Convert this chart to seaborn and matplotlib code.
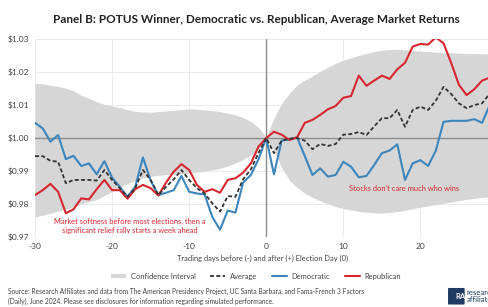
import numpy as np
import pandas as pd
import matplotlib
matplotlib.use("Agg")
import matplotlib.pyplot as plt
from matplotlib.lines import Line2D
from matplotlib.patches import Patch, FancyBboxPatch
import seaborn as sns

# trading days around election day
days = list(range(-30, 30))

democratic = [1.0046, 1.0029, 0.9989, 1.0009, 0.9936, 0.9946, 0.9915, 0.9923, 0.9890, 0.9930,
              0.9880, 0.9852, 0.9822, 0.9852, 0.9941, 0.9871, 0.9827, 0.9834, 0.9842, 0.9885,
              0.9837, 0.9832, 0.9829, 0.9761, 0.9722, 0.9780, 0.9774, 0.9865, 0.9888, 0.9936,
              1.0000, 0.9890, 0.9992, 0.9996, 1.0002, 0.9945, 0.9888, 0.9908, 0.9883, 0.9888,
              0.9928, 0.9913, 0.9881, 0.9885, 0.9918, 0.9954, 0.9962, 0.9981, 0.9873, 0.9923,
              0.9933, 0.9915, 0.9962, 1.0049, 1.0052, 1.0052, 1.0052, 1.0057, 1.0046, 1.0100]

republican = [0.9827, 0.9842, 0.9861, 0.9837, 0.9772, 0.9784, 0.9817, 0.9814, 0.9845, 0.9873,
              0.9842, 0.9842, 0.9816, 0.9845, 0.9858, 0.9848, 0.9826, 0.9865, 0.9898, 0.9921,
              0.9903, 0.9858, 0.9837, 0.9845, 0.9834, 0.9873, 0.9878, 0.9895, 0.9923, 0.9974,
              1.0000, 1.0019, 1.0010, 0.9994, 1.0002, 1.0046, 1.0055, 1.0070, 1.0087, 1.0097,
              1.0122, 1.0127, 1.0189, 1.0158, 1.0174, 1.0189, 1.0179, 1.0208, 1.0228, 1.0277,
              1.0285, 1.0283, 1.0305, 1.0287, 1.0227, 1.0161, 1.0130, 1.0148, 1.0174, 1.0183]

average = [0.9945, 0.9945, 0.9931, 0.9928, 0.9863, 0.9873, 0.9873, 0.9873, 0.9871, 0.9903,
           0.9873, 0.9848, 0.9822, 0.9848, 0.9903, 0.9873, 0.9827, 0.9852, 0.9875, 0.9903,
           0.9873, 0.9848, 0.9832, 0.9802, 0.9777, 0.9824, 0.9822, 0.9875, 0.9905, 0.9955,
           1.0000, 0.9954, 0.9992, 0.9998, 1.0000, 0.9992, 0.9966, 0.9982, 0.9976, 0.9982,
           1.0010, 1.0012, 1.0018, 1.0009, 1.0035, 1.0060, 1.0060, 1.0085, 1.0034, 1.0085,
           1.0095, 1.0085, 1.0113, 1.0155, 1.0133, 1.0105, 1.0090, 1.0100, 1.0105, 1.0135]

ci_upper = [1.0166, 1.0164, 1.0160, 1.0156, 1.0151, 1.0143, 1.0130, 1.0120, 1.0110, 1.0102,
            1.0097, 1.0092, 1.0086, 1.0081, 1.0079, 1.0078, 1.0080, 1.0082, 1.0084, 1.0086,
            1.0088, 1.0087, 1.0085, 1.0083, 1.0080, 1.0075, 1.0070, 1.0062, 1.0050, 1.0032,
            1.0002, 1.0060, 1.0105, 1.0135, 1.0160, 1.0175, 1.0188, 1.0202, 1.0215, 1.0226,
            1.0236, 1.0243, 1.0250, 1.0256, 1.0262, 1.0266, 1.0268, 1.0269, 1.0267, 1.0265,
            1.0263, 1.0262, 1.0260, 1.0259, 1.0258, 1.0257, 1.0256, 1.0256, 1.0255, 1.0255]

ci_lower = [0.9761, 0.9766, 0.9772, 0.9778, 0.9784, 0.9792, 0.9800, 0.9807, 0.9813, 0.9826,
            0.9838, 0.9850, 0.9862, 0.9871, 0.9879, 0.9884, 0.9887, 0.9889, 0.9890, 0.9891,
            0.9893, 0.9896, 0.9900, 0.9903, 0.9908, 0.9915, 0.9924, 0.9935, 0.9948, 0.9967,
            0.9998, 0.9962, 0.9910, 0.9872, 0.9850, 0.9832, 0.9820, 0.9810, 0.9800, 0.9792,
            0.9786, 0.9782, 0.9778, 0.9775, 0.9773, 0.9772, 0.9774, 0.9777, 0.9781, 0.9786,
            0.9790, 0.9794, 0.9798, 0.9802, 0.9806, 0.9810, 0.9814, 0.9817, 0.9820, 0.9822]

y_ticks = [0.97, 0.98, 0.99, 1.00, 1.01, 1.02, 1.03]
x_ticks = [-30, -20, -10, 0, 10, 20]

blue = "#3d85bd"
red = "#d7262f"
band = "#d6d6d6"
txt = "#444444"

sns.set_theme(style="white")
plt.rcParams["font.family"] = ["Lato", "DejaVu Sans"]

df = pd.DataFrame({"day": days, "Democratic": democratic,
                   "Republican": republican, "Average": average})

fig = plt.figure(figsize=(4.89, 3.07), dpi=100)
ax = fig.add_axes([0.0716, 0.228, 0.93, 0.645])

# grid
for t in y_ticks:
    ax.axhline(t, color="#ebebeb", lw=0.7, zorder=0)
for t in x_ticks:
    if t != 0:
        ax.axvline(t, color="#ebebeb", lw=0.7, zorder=0)

ax.fill_between(days, ci_lower, ci_upper, color=band, lw=0, zorder=1)
ax.axhline(1.0, color="#8c8c8c", lw=1.0, zorder=2)
ax.axvline(0, color="#8c8c8c", lw=1.0, zorder=2)

sns.lineplot(data=df, x="day", y="Democratic", color=blue, lw=1.5, ax=ax, zorder=3)
sns.lineplot(data=df, x="day", y="Republican", color=red, lw=1.5, ax=ax, zorder=4)
sns.lineplot(data=df, x="day", y="Average", color="#333333", lw=1.3, ax=ax, zorder=5,
             linestyle=(0, (2.2, 1.3)))

ax.set_xlim(-30, 29)
ax.set_ylim(0.97, 1.03)
ax.set_xticks(x_ticks)
ax.set_xticklabels([str(t) for t in x_ticks])
ax.set_yticks(y_ticks)
ax.set_yticklabels([f"${t:.2f}" for t in y_ticks])
ax.tick_params(axis="both", labelsize=6.0, colors=txt, length=0, pad=4)
for s in ax.spines.values():
    s.set_visible(False)
ax.set_xlabel("Trading days before (-) and after (+) Election Day (0)", fontsize=5.4,
              color=txt, labelpad=4)
ax.set_ylabel("")

ax.text(-17.7, 0.9733, "Market softness before most elections, then a\nsignificant relief rally starts a week ahead",
        color=red, fontsize=5.4, ha="center", va="center", linespacing=1.3)
ax.text(17.9, 0.9848, "Stocks don't care much who wins", color=red, fontsize=5.4,
        ha="center", va="center")

fig.text(0.524, 0.935, "Panel B: POTUS Winner, Democratic vs. Republican, Average Market Returns",
         ha="center", va="center", fontsize=8.5, fontweight="bold", color="#222222")

handles = [Patch(facecolor=band, edgecolor="none"),
           Line2D([], [], color="#333333", lw=1.3, linestyle=(0, (2.2, 1.3))),
           Line2D([], [], color=blue, lw=1.5),
           Line2D([], [], color=red, lw=1.5)]
labels = ["Confidence Interval", "Average", "Democratic", "Republican"]
fig.legend(handles, labels, loc="center", bbox_to_anchor=(0.524, 0.1), ncol=4, frameon=False,
           fontsize=5.4, handlelength=2.0, handleheight=0.5, columnspacing=2.0,
           handletextpad=0.6, labelcolor=txt)

fig.text(0.016, 0.034, "Source: Research Affiliates and data from The American Presidency Project, UC Santa Barbara, and Fama-French 3 Factors\n(Daily), June 2024. Please see disclosures for information regarding simulated performance.",
         ha="left", va="center", fontsize=4.75, color=txt, linespacing=1.5)

# logo (cut off at the right edge, as in the original)
fig.patches.append(FancyBboxPatch((449 / 489, 0.01), 0.03, 0.05, boxstyle="round,pad=0.002",
                                  transform=fig.transFigure, facecolor="#1f3b63", edgecolor="none"))
fig.text(455 / 489, 0.035, "RA", fontsize=5.5, color="white", fontweight="bold", va="center", ha="left")
fig.text(467 / 489, 0.035, "research\naffiliates", fontsize=5.6, color="#1f3b63", va="center",
         ha="left", linespacing=1.0)

fig.savefig("out.png", dpi=100)
